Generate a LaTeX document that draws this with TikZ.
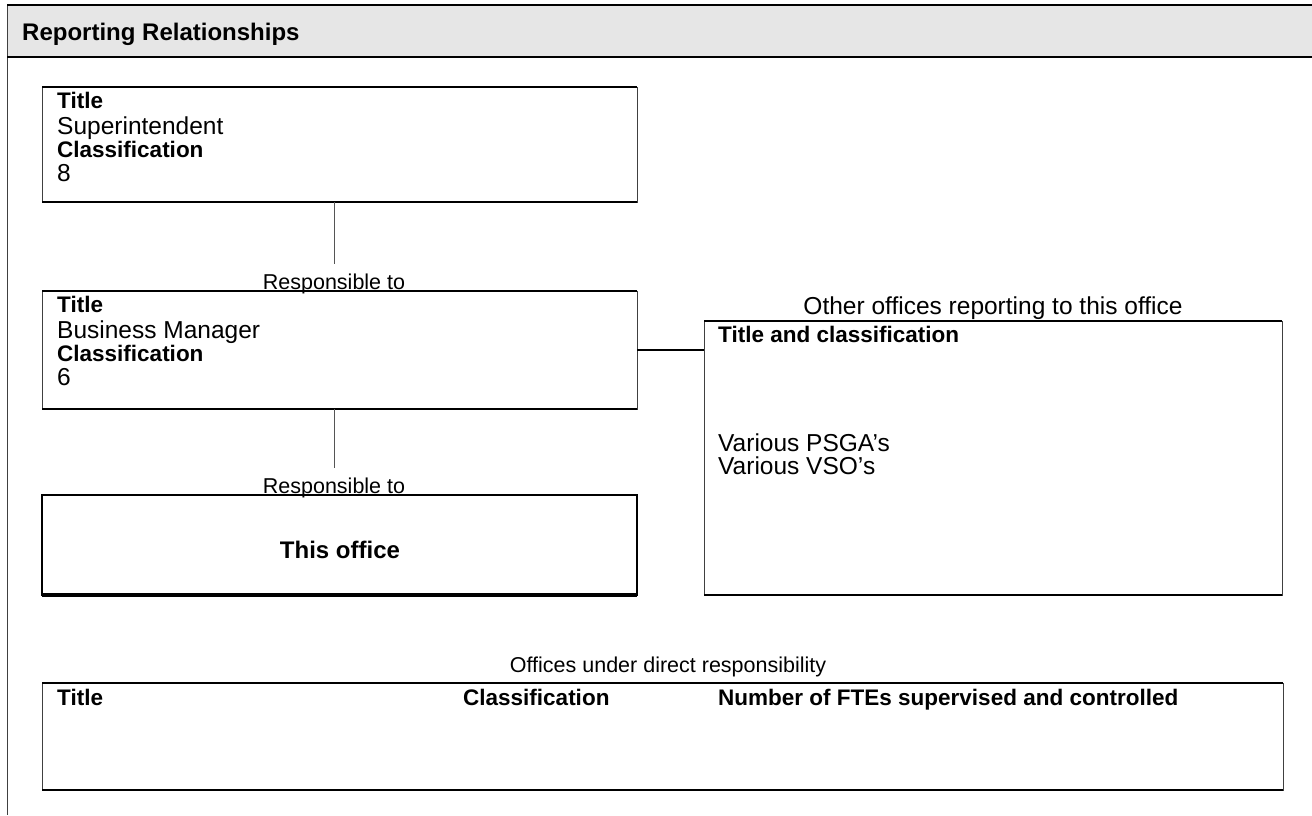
\documentclass[tikz,border=0pt]{standalone}
\usepackage{fontspec}
\setmainfont{Liberation Sans}
\definecolor{hdrgray}{HTML}{E6E6E6}
\definecolor{sidegray}{HTML}{404040}
\definecolor{conngray}{HTML}{555555}
\begin{document}
\begin{tikzpicture}[x=1pt,y=-1pt,
  cell/.style={draw=sidegray, line width=1pt, outer sep=0pt, inner sep=0pt, anchor=north west},
  heavycell/.style={draw=black, line width=2.6pt, outer sep=0pt, inner sep=0pt, anchor=north west},
  hrule/.style={draw=black, line width=2.4pt},
  conn/.style={draw=conngray, line width=1pt},
  hconn/.style={draw=black, line width=1.6pt},
  txt/.style={anchor=base west, inner sep=0pt, font=\fontsize{24.5}{26}\selectfont},
  btxt/.style={anchor=base west, inner sep=0pt, font=\fontsize{22.5}{24}\selectfont\bfseries},
  lbl/.style={anchor=base, inner sep=0pt, font=\fontsize{21.5}{23}\selectfont},
  rlbl/.style={anchor=base, inner xsep=0pt, inner ysep=9.5pt, font=\fontsize{21.5}{23}\selectfont}
]
\useasboundingbox (0,0) rectangle (1312,815);
% frame and header
\fill[hdrgray] (7,5) rectangle (1312,57);
\draw[line width=1pt, draw=sidegray] (7,5) -- (7,815);
\draw[line width=2.4pt] (7,5) -- (1312,5);
\draw[line width=2.8pt] (7,57) -- (1312,57);
\node[anchor=base west, inner sep=0pt, font=\fontsize{24}{26}\selectfont\bfseries] (hdr) at (22,40) {Reporting Relationships};

% box 1: superintendent
\node[cell, minimum width=595pt, minimum height=115pt] (sup) at (42,87) {};
\draw[hrule] (sup.north west) -- (sup.north east);
\draw[hrule] (sup.south west) -- (sup.south east);
\node[btxt] (t1) at (57,108) {Title};
\node[txt] (v1) at (57,134) {Superintendent};
\node[btxt] (c1) at (57,157) {Classification};
\node[txt] (n1) at (57,181) {8};

% responsible to 1
\node[rlbl] (r1) at (334,289) {Responsible to};
\draw[conn] (sup.south -| r1.north) -- (r1.north);

% box 2: business manager
\node[cell, minimum width=595pt, minimum height=118pt] (bm) at (42,291) {};
\draw[hrule] (bm.north west) -- (bm.north east);
\draw[hrule] (bm.south west) -- (bm.south east);
\node[btxt] (t2) at (57,312) {Title};
\node[txt] (v2) at (57,338) {Business Manager};
\node[btxt] (c2) at (57,361) {Classification};
\node[txt] (n2) at (57,385) {6};

% responsible to 2
\node[rlbl] (r2) at (334,493) {Responsible to};
\draw[conn] (bm.south -| r2.north) -- (r2.north);

% box 3: this office
\node[heavycell, minimum width=595pt, minimum height=100pt] (me) at (42,495) {};
\draw[line width=3.6pt] (me.south west) -- (me.south east);
\node[anchor=base, inner sep=0pt, font=\fontsize{24}{26}\selectfont\bfseries] (met) at (340,558) {This office};

% other offices
\node[lbl, font=\fontsize{24.5}{26}\selectfont] (olbl) at (993,314) {Other offices reporting to this office};
\node[cell, minimum width=578pt, minimum height=274pt] (oth) at (704,321) {};
\draw[hrule] (oth.north west) -- (oth.north east);
\draw[line width=1.6pt] (oth.south west) -- (oth.south east);
\node[btxt] (t3) at (718,342) {Title and classification};
\node[txt] (p3) at (718,451) {Various PSGA’s};
\node[txt] (s3) at (718,474) {Various VSO’s};
\draw[hconn] (bm.east) -- (bm.east -| oth.west);

% offices under direct responsibility
\node[lbl] (ulbl) at (668,672) {Offices under direct responsibility};
\node[cell, minimum width=1241pt, minimum height=107pt] (und) at (42,683) {};
\draw[hrule] (und.north west) -- (und.north east);
\draw[hrule] (und.south west) -- (und.south east);
\node[btxt] (ut) at (57,705) {Title};
\node[btxt] (uc) at (463,705) {Classification};
\node[btxt] (un) at (718,705) {Number of FTEs supervised and controlled};
\end{tikzpicture}
\end{document}
